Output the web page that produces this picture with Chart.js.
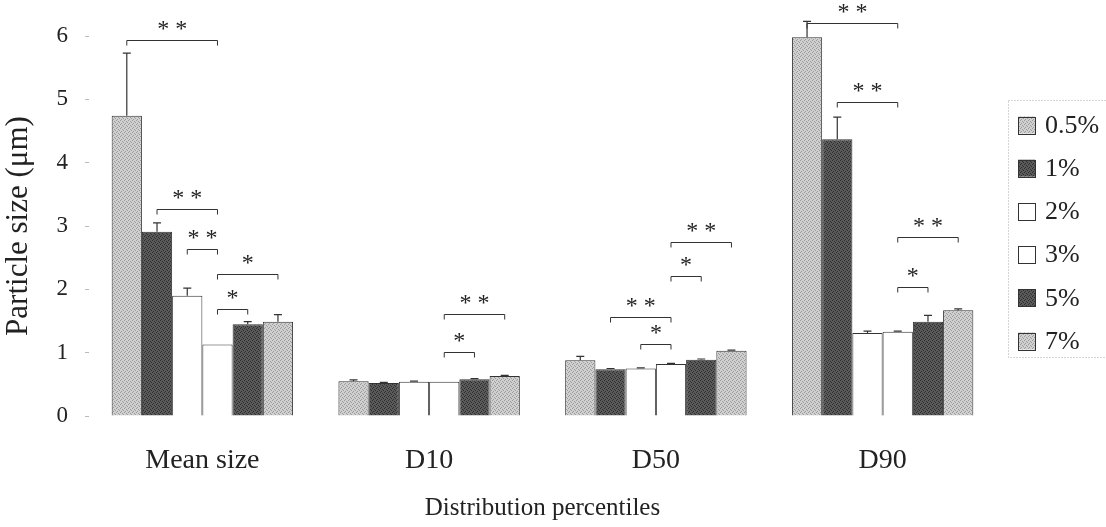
<!DOCTYPE html>
<html>
<head>
<meta charset="utf-8">
<script src="https://cdn.jsdelivr.net/npm/chart.js@4/dist/chart.umd.min.js"></script>
<style>
  html, body { margin: 0; padding: 0; background: #fff; }
  #wrap { width: 1106px; height: 527px; }
</style>
</head>
<body>
<div id="wrap"><canvas id="grafico" width="1106" height="527"></canvas></div>
<script>
// categorias e series
const categorias = ['Mean size', 'D10', 'D50', 'D90'];
const rotulosSerie = ['0.5%', '1%', '2%', '3%', '5%', '7%'];

const s05 = [4.74, 0.55, 0.88, 5.98];
const s1 = [2.91, 0.52, 0.74, 4.37];
const s2 = [1.90, 0.54, 0.75, 1.31];
const s3 = [1.13, 0.54, 0.82, 1.33];
const s5 = [1.45, 0.58, 0.89, 1.49];
const s7 = [1.49, 0.63, 1.03, 1.67];

// barras de erro (so para cima)
const e05 = [0.99, 0.02, 0.06, 0.25];
const e1 = [0.14, 0.01, 0.01, 0.35];
const e2 = [0.12, 0.01, 0.01, 0.03];
const e3 = [0, 0, 0.01, 0.01];
const e5 = [0.04, 0.01, 0.01, 0.10];
const e7 = [0.11, 0.01, 0.01, 0.02];

// colchetes de significancia: [grupo, serie inicial, serie final, nivel y, texto]
const colchetes = [
    [0, 0, 3, 5.94, '* *'],
    [0, 1, 3, 3.27, '* *'],
    [0, 2, 3, 2.64, '* *'],
    [0, 3, 5, 2.24, '*'],
    [0, 3, 4, 1.69, '*'],
    [1, 3, 5, 1.61, '* *'],
    [1, 3, 4, 1.01, '*'],
    [2, 3, 5, 2.75, '* *'],
    [2, 3, 4, 2.21, '*'],
    [2, 1, 3, 1.56, '* *'],
    [2, 2, 3, 1.14, '*'],
    [3, 0, 3, 6.20, '* *'],
    [3, 1, 3, 4.95, '* *'],
    [3, 3, 5, 2.82, '* *'],
    [3, 3, 4, 2.04, '*']
];

const yTicks = [0, 1, 2, 3, 4, 5, 6];

const fonte = "'Liberation Serif', 'Times New Roman', serif";

function criarPadrao(base, pontos, corPonto) {
    let c = document.createElement('canvas');
    c.width = 4; c.height = 4;
    let ctx = c.getContext('2d');
    ctx.fillStyle = base;
    ctx.fillRect(0, 0, 4, 4);
    ctx.fillStyle = corPonto;
    pontos.forEach(p => ctx.fillRect(p[0], p[1], 1, 1));
    return document.getElementById('grafico').getContext('2d').createPattern(c, 'repeat');
}

const claro = criarPadrao('#d0d0d0', [[0, 0], [2, 1], [1, 3], [3, 2]], '#9a9a9a');
const escuro = criarPadrao('#5a5a5a', [[0, 0], [2, 1], [1, 3], [3, 2]], '#2e2e2e');

const valores = [s05, s1, s2, s3, s5, s7];
const erros = [e05, e1, e2, e3, e5, e7];
const cores = [claro, escuro, '#ffffff', '#ffffff', escuro, claro];

const datasets = valores.map((v, i) => ({
    label: rotulosSerie[i],
    data: v,
    erros: erros[i],
    backgroundColor: cores[i],
    borderColor: '#333',
    borderWidth: 1,
    categoryPercentage: 0.8,
    barPercentage: 1.0
}));

const pluginExtras = {
    id: 'extras',
    afterDatasetsDraw(chart) {
        let ctx = chart.ctx;
        let y = chart.scales.y;
        ctx.save();
        // barras de erro
        ctx.strokeStyle = '#333';
        ctx.lineWidth = 1.2;
        chart.data.datasets.forEach((ds, i) => {
            let meta = chart.getDatasetMeta(i);
            meta.data.forEach((bar, j) => {
                let e = ds.erros[j];
                if (!e) return;
                let yt = y.getPixelForValue(ds.data[j] + e);
                ctx.beginPath();
                ctx.moveTo(bar.x, bar.y);
                ctx.lineTo(bar.x, yt);
                ctx.moveTo(bar.x - 4, yt);
                ctx.lineTo(bar.x + 4, yt);
                ctx.stroke();
            });
        });
        // colchetes
        ctx.lineWidth = 1;
        ctx.fillStyle = '#222';
        ctx.font = "24px " + fonte;
        ctx.textAlign = 'center';
        ctx.textBaseline = 'alphabetic';
        colchetes.forEach(c => {
            let x1 = chart.getDatasetMeta(c[1]).data[c[0]].x;
            let x2 = chart.getDatasetMeta(c[2]).data[c[0]].x;
            let yl = Math.round(y.getPixelForValue(c[3])) + 0.5;
            ctx.beginPath();
            ctx.moveTo(x1, yl + 5);
            ctx.lineTo(x1, yl);
            ctx.lineTo(x2, yl);
            ctx.lineTo(x2, yl + 5);
            ctx.stroke();
            ctx.fillText(c[4], (x1 + x2) / 2, yl - 5);
        });
        ctx.restore();
    },
    afterDraw(chart) {
        // legenda desenhada a mao, a partir dos datasets
        let ctx = chart.ctx;
        let x0 = chart.chartArea.right + 22;
        ctx.save();
        ctx.strokeStyle = '#aaa';
        ctx.lineWidth = 1;
        ctx.setLineDash([1, 2]);
        ctx.strokeRect(x0 - 9.5, 100.5, 200, 257);
        ctx.setLineDash([]);
        ctx.font = "26px " + fonte;
        ctx.textBaseline = 'middle';
        ctx.textAlign = 'left';
        chart.data.datasets.forEach((ds, i) => {
            let cy = 125 + i * 43.2;
            ctx.fillStyle = ds.backgroundColor;
            ctx.fillRect(x0, cy - 8.5, 17, 17);
            ctx.strokeStyle = '#333';
            ctx.strokeRect(x0 + 0.5, Math.round(cy - 8.5) + 0.5, 17, 17);
            ctx.fillStyle = '#222';
            ctx.fillText(ds.label, x0 + 27, cy + 1);
        });
        ctx.restore();
    }
};

new Chart(document.getElementById('grafico'), {
    type: 'bar',
    data: { labels: categorias, datasets: datasets },
    options: {
        responsive: false,
        animation: false,
        layout: { padding: { top: 36, right: 110, left: 0, bottom: 0 } },
        plugins: {
            tooltip: { enabled: false },
            legend: { display: false }
        },
        scales: {
            x: {
                grid: { display: false },
                border: { display: false },
                ticks: { color: '#222', padding: 20, font: { family: fonte, size: 28 } },
                title: {
                    display: true,
                    text: 'Distribution percentiles',
                    color: '#222',
                    font: { family: fonte, size: 25 },
                    padding: { top: 0, bottom: 4 }
                },
                afterFit(scale) { scale.height = 111; }
            },
            y: {
                min: 0,
                max: 6,
                afterBuildTicks(scale) { scale.ticks = yTicks.map(v => ({ value: v })); },
                grid: { drawOnChartArea: false, drawTicks: true, tickLength: 4, color: '#bbb' },
                border: { display: false },
                ticks: { color: '#222', padding: 17, font: { family: fonte, size: 23 } },
                title: {
                    display: true,
                    text: 'Particle size (μm)',
                    color: '#222',
                    font: { family: fonte, size: 31 },
                    padding: { top: 0, bottom: 4 }
                },
                afterFit(scale) { scale.width = 89; }
            }
        }
    },
    plugins: [pluginExtras]
});
</script>
</body>
</html>
